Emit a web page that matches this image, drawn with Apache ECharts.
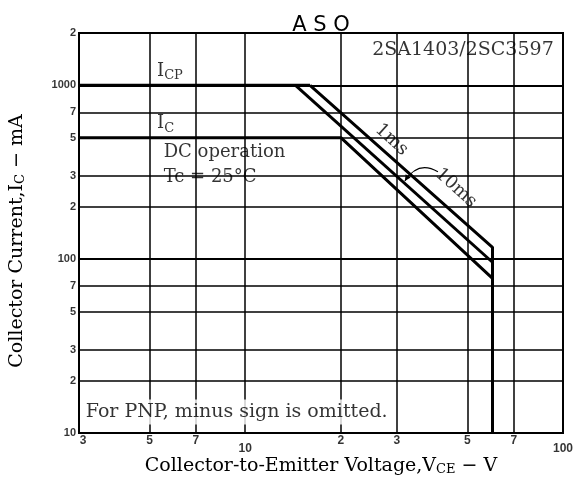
<!DOCTYPE html>
<html><head><meta charset="utf-8">
<script src="https://cdn.jsdelivr.net/npm/echarts@6/dist/echarts.min.js"></script>
<style>html,body{margin:0;padding:0;background:#fff}#c{width:576px;height:488px}</style>
</head><body><div id="c"></div>
<script>
// ---- data ----
const xTicks = [3, 5, 7, 10, 20, 30, 50, 70, 100];
const xTickLabels = ['3', '5', '7', '10', '2', '3', '5', '7', '100'];
const yTicks = [10, 20, 30, 50, 70, 100, 200, 300, 500, 700, 1000, 2000];
const yTickLabels = ['10', '2', '3', '5', '7', '100', '2', '3', '5', '7', '1000', '2'];
const icpLine = [[3, 1000], [16, 1000]];
const ms1Line = [[16, 1000], [60, 117], [60, 10]];
const ms10Line = [[14.4, 1000], [60, 96]];
const dcLine = [[3, 500], [20, 500], [60, 77.5]];
// annotation anchors (data units)
const annoICP = [5.28, 1000];
const annoIC = [5.28, 500];
const annoDC = [5.54, 414];
const annoTc = [5.54, 297];
const anno1ms = [28, 485];
const anno10ms = [46, 257];
const annoModel = [93.5, 1600];
const annoPNP = [3.15, 13.2];
const leader = [[31.8, 282], [35.1, 372], [40.4, 318]];

const serif = 'DejaVu Serif';
const tickFont = 'Liberation Sans';
const chart = echarts.init(document.getElementById('c'));
const gridXs = xTicks.slice(1, -1), gridYs = yTicks.slice(1, -1);
const lineStyle = { color: '#000', width: 3 };
const rich = {
  m: { fontFamily: serif, fontSize: 18, color: '#000', lineHeight: 22 },
  s: { fontFamily: serif, fontSize: 13, color: '#000', lineHeight: 14, verticalAlign: 'bottom' }
};
function anno(pos, fmt, extra) {
  return { value: pos, label: Object.assign({ formatter: fmt }, extra || {}) };
}
const option = {
  animation: false,
  backgroundColor: '#fff',
  title: { text: 'A S O', left: 316, top: 10, textAlign: 'center',
    textStyle: { fontFamily: 'DejaVu Sans', fontSize: 21, fontWeight: 'normal', color: '#000' } },
  grid: { left: 79, right: 13, top: 33, bottom: 55, show: true, borderColor: '#000', borderWidth: 2 },
  xAxis: { type: 'log', logBase: 10, min: 3, max: 100,
    axisLine: { show: false }, axisTick: { show: false }, axisLabel: { show: false }, splitLine: { show: false },
    name: 'Collector-to-Emitter Voltage,V{s|CE} − V', nameLocation: 'middle', nameGap: 24,
    nameTextStyle: { fontFamily: serif, fontSize: 19, color: '#000', padding: [0, 0, 0, 0],
      rich: { s: { fontFamily: serif, fontSize: 13, color: '#000', lineHeight: 14, verticalAlign: 'bottom' } } } },
  yAxis: { type: 'log', logBase: 10, min: 10, max: 2000,
    axisLine: { show: false }, axisTick: { show: false }, axisLabel: { show: false }, splitLine: { show: false },
    name: 'Collector Current,I{s|C} − mA', nameLocation: 'middle', nameGap: 52, nameRotate: 90,
    nameTextStyle: { fontFamily: serif, fontSize: 19, color: '#000', padding: [0, 16, 0, 0],
      rich: { s: { fontFamily: serif, fontSize: 13, color: '#000', lineHeight: 14, verticalAlign: 'bottom' } } } },
  series: [
    { type: 'line', name: 'DC', data: dcLine, symbol: 'none', lineStyle: lineStyle, z: 3,
      markLine: { symbol: 'none', silent: true, label: { show: false },
        lineStyle: { color: '#000', width: 1.5, type: 'solid' },
        data: gridXs.map(v => ({ xAxis: v })).concat(gridYs.map(v => ({ yAxis: v, lineStyle: { width: (v === 100 || v === 1000) ? 2 : 1.5, color: '#000', type: 'solid' } }))) } },
    { type: 'line', name: '10ms', data: ms10Line, symbol: 'none', lineStyle: lineStyle, z: 3 },
    { type: 'line', name: '1ms', data: ms1Line, symbol: 'none', lineStyle: lineStyle, z: 3 },
    { type: 'line', name: 'ICP', data: icpLine, symbol: 'none', lineStyle: lineStyle, z: 3 },
    { type: 'scatter', name: 'yTicks', symbolSize: 0, clip: false, silent: true, z: 5,
      data: yTicks.map(v => [3, v]),
      label: { show: true, position: 'left', distance: 3, formatter: p => yTickLabels[p.dataIndex],
        fontFamily: tickFont, fontWeight: 'bold', fontSize: 11, color: '#000' } },
    { type: 'scatter', name: 'xTicks', symbolSize: 0, clip: false, silent: true, z: 5,
      data: xTicks.map((v, i) => ({ value: [v, 10], label: { distance: (v === 10 || v === 100) ? 10 : 2, offset: [i === 0 ? 4 : 0, 0] } })),
      label: { show: true, position: 'bottom', formatter: p => xTickLabels[p.dataIndex],
        fontFamily: tickFont, fontWeight: 'bold', fontSize: 12, color: '#000' } },
    { type: 'scatter', name: 'notes', symbolSize: 0, clip: false, silent: true, z: 10,
      label: { show: true, position: [0, 0], align: 'left', verticalAlign: 'middle',
        fontFamily: serif, fontSize: 18, color: '#000', textBorderWidth: 0, rich: rich },
      data: [
        anno(annoICP, '{m|I}{s|CP}', { verticalAlign: 'bottom', offset: [0, -3] }),
        anno(annoIC, '{m|I}{s|C}', { verticalAlign: 'bottom', offset: [0, -3] }),
        anno(annoDC, 'DC operation'),
        anno(annoTc, 'Tc = 25°C'),
        anno(anno1ms, '1ms', { align: 'center', rotate: -42, offset: [3, -3] }),
        anno(anno10ms, '10ms', { align: 'center', rotate: -42 }),
        anno(annoModel, '2SA1403/2SC3597', { align: 'right', fontSize: 19 }),
        anno(annoPNP, 'For PNP, minus sign is omitted.', { fontSize: 19, backgroundColor: '#fff', padding: [3, 4, 3, 4], offset: [-4, 0] })
      ] }
  ]
};
chart.setOption(option);
const p = leader.map(d => chart.convertToPixel({ gridIndex: 0 }, d));
const ang = Math.atan2(p[1][1] - p[0][1], p[1][0] - p[0][0]);
const L = 6, W = 3;
const bx = p[0][0] + Math.cos(ang) * L, by = p[0][1] + Math.sin(ang) * L;
chart.setOption({ graphic: [
  { type: 'bezierCurve', z: 20, shape: { x1: p[0][0], y1: p[0][1], cpx1: p[1][0], cpy1: p[1][1], x2: p[2][0], y2: p[2][1] },
    style: { stroke: '#000', lineWidth: 1.2, fill: null } },
  { type: 'polygon', z: 20, shape: { points: [[p[0][0], p[0][1]], [bx - Math.sin(ang) * W, by + Math.cos(ang) * W], [bx + Math.sin(ang) * W, by - Math.cos(ang) * W]] },
    style: { fill: '#000' } }
] });
</script>
</body></html>
